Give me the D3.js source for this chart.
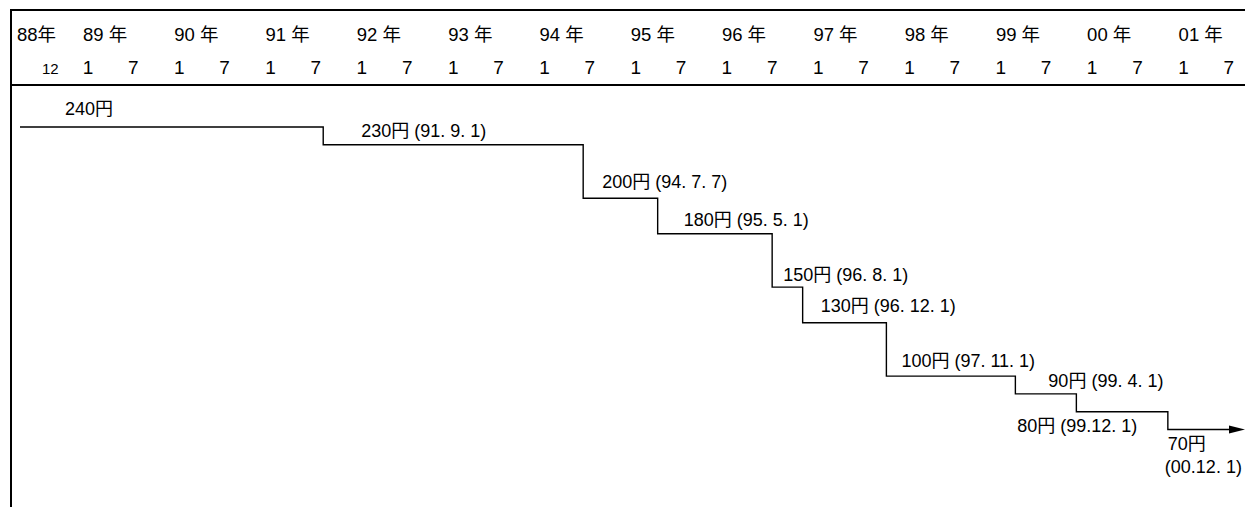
<!DOCTYPE html>
<meta charset="utf-8">

<style>
body { margin: 0; background: #fff; }
text {
  font-family: "Liberation Sans", Arial, "Noto Sans CJK JP", sans-serif;
  fill: #000;
}
.frame { stroke: #000; stroke-width: 2; }
.step { fill: none; stroke: #000; stroke-width: 1.4; }
.year { font-size: 18.5px; }
.month { font-size: 19px; text-anchor: middle; }
.price { font-size: 18px; }
</style>

<body>
<script src="https://d3js.org/d3.v7.min.js"></script>
<script>
var w = 1245, h = 507;

// fare steps: price (yen) and the date it took effect
var prices = [240, 230, 200, 180, 150, 130, 100, 90, 80, 70];
var changeDates = [null, "1991-09-01", "1994-07-07", "1995-05-01", "1996-08-01",
                   "1996-12-01", "1997-11-01", "1999-04-01", "1999-12-01", "2000-12-01"];
var dateLabels = ["", "(91. 9. 1)", "(94. 7. 7)", "(95. 5. 1)", "(96. 8. 1)",
                  "(96. 12. 1)", "(97. 11. 1)", "(99. 4. 1)", "(99.12. 1)", "(00.12. 1)"];

// header
var yearLabels = ["89 年", "90 年", "91 年", "92 年", "93 年", "94 年", "95 年",
                  "96 年", "97 年", "98 年", "99 年", "00 年", "01 年"];
var years = [1989, 1990, 1991, 1992, 1993, 1994, 1995, 1996, 1997, 1998, 1999, 2000, 2001];
var monthTicks = [1, 7];

// label placement relative to each step corner (layout only)
var labelPos = [
  {dx: 45, dy: -12}, {dx: 38, dy: -8}, {dx: 19, dy: -10}, {dx: 26, dy: -8},
  {dx: 11, dy: -6.5}, {dx: 18, dy: -11}, {dx: 15, dy: -9.5}, {dx: 33, dy: -7},
  {dx: 61, dy: 20, anchor: "end"}, {dx: 0, dy: 20.5, wrap: true}
];

var parse = d3.timeParse("%Y-%m-%d");

var svg = d3.select("body").append("svg")
            .attr("width", w)
            .attr("height", h);

var x = d3.scaleTime()
          .domain([new Date(1989, 0, 1), new Date(2001, 0, 1)])
          .range([80, 1175.6]);

var y = d3.scaleLinear()
          .domain([70, 240])
          .range([429.5, 127]);

var lineStart = 20, lineEnd = 1244;

// frame
svg.append("line").attr("class", "frame")
   .attr("x1", 11).attr("x2", w).attr("y1", 10).attr("y2", 10);
svg.append("line").attr("class", "frame")
   .attr("x1", 11).attr("x2", w).attr("y1", 85).attr("y2", 85);
svg.append("line").attr("class", "frame")
   .attr("x1", 11).attr("x2", 11).attr("y1", 9).attr("y2", h);

// header: years and months
var head = svg.append("g");
head.append("text").attr("class", "year")
    .attr("x", 17).attr("y", 41).text("88年");
head.append("text").attr("class", "month").style("font-size", "15px")
    .attr("x", x(new Date(1988, 11, 1)) - 22).attr("y", 74).text("12");

head.selectAll(".year-l")
    .data(years)
    .enter().append("text")
    .attr("class", "year")
    .attr("x", function(d){ return x(new Date(d, 0, 1)) + 3; })
    .attr("y", 41)
    .text(function(d, i){ return yearLabels[i]; });

var monthData = [];
years.forEach(function(yr){
  monthTicks.forEach(function(m){ monthData.push({yr: yr, m: m}); });
});
head.selectAll(".month-l")
    .data(monthData)
    .enter().append("text")
    .attr("class", "month")
    .attr("x", function(d){ return x(new Date(d.yr, d.m - 1, 1)) + 8; })
    .attr("y", 74)
    .text(function(d){ return d.m; });

// step line
var pts = [[lineStart, y(prices[0])]];
for (var i = 1; i < prices.length; i++) {
  var xd = x(parse(changeDates[i]));
  pts.push([xd, y(prices[i - 1])]);
  pts.push([xd, y(prices[i])]);
}
pts.push([lineEnd - 12, y(prices[prices.length - 1])]);

svg.append("path")
   .attr("class", "step")
   .attr("d", d3.line()(pts));

// arrow head
var ya = y(prices[prices.length - 1]);
svg.append("path")
   .attr("d", "M" + (lineEnd - 15) + "," + (ya - 4) + "L" + (lineEnd + 1) + "," + ya +
              "L" + (lineEnd - 15) + "," + (ya + 4) + "Z")
   .attr("fill", "#000");

// price labels
var labels = svg.append("g");
prices.forEach(function(p, i){
  var pos = labelPos[i];
  var bx = i === 0 ? lineStart : x(parse(changeDates[i]));
  var by = y(p);
  var t = labels.append("text")
     .attr("class", "price")
     .attr("x", bx + pos.dx)
     .attr("y", by + pos.dy)
     .attr("text-anchor", pos.anchor || "start");
  if (pos.wrap) {
    t.append("tspan").text(p + "円");
    t.append("tspan").attr("x", bx + pos.dx - 3).attr("dy", 23).text(dateLabels[i]);
  } else {
    t.text(p + "円" + (dateLabels[i] ? " " + dateLabels[i] : ""));
  }
});
</script>
</body>
